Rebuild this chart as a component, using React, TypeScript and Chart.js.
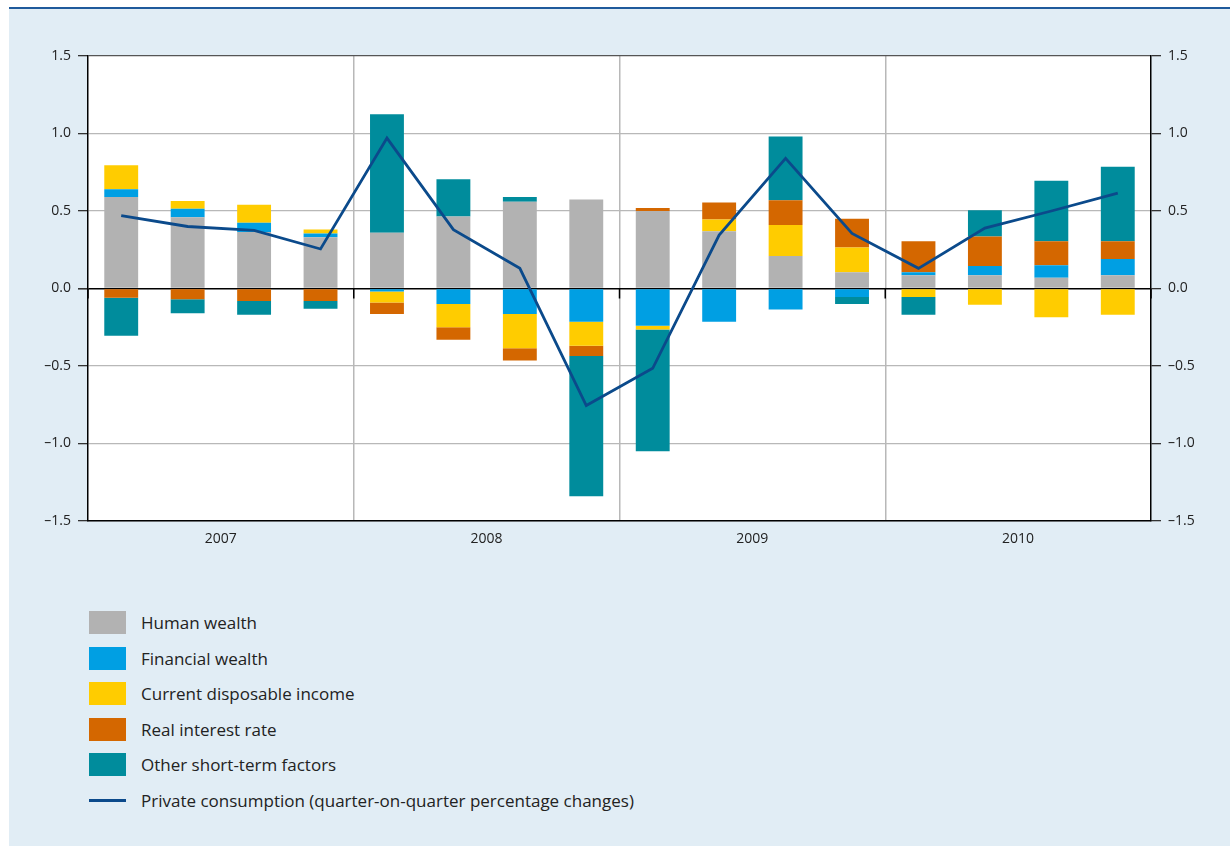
import React, { useEffect, useRef } from 'react';
import { Chart, registerables } from 'chart.js';

Chart.register(...registerables);

const quarters = [
  '2007 Q1', '2007 Q2', '2007 Q3', '2007 Q4',
  '2008 Q1', '2008 Q2', '2008 Q3', '2008 Q4',
  '2009 Q1', '2009 Q2', '2009 Q3', '2009 Q4',
  '2010 Q1', '2010 Q2', '2010 Q3', '2010 Q4',
];
const years = ['2007', '2008', '2009', '2010'];

const humanWealth = [0.59, 0.46, 0.365, 0.33, 0.36, 0.465, 0.56, 0.575, 0.5, 0.37, 0.21, 0.105, 0.085, 0.085, 0.07, 0.085];
const financialWealth = [0.05, 0.055, 0.06, 0.025, -0.02, -0.1, -0.165, -0.215, -0.24, -0.215, -0.135, -0.055, 0.02, 0.06, 0.08, 0.105];
const disposableIncome = [0.155, 0.05, 0.115, 0.025, -0.07, -0.15, -0.22, -0.155, -0.025, 0.075, 0.2, 0.16, -0.055, -0.105, -0.185, -0.17];
const realInterestRate = [-0.06, -0.07, -0.08, -0.08, -0.075, -0.08, -0.08, -0.065, 0.02, 0.11, 0.16, 0.185, 0.2, 0.19, 0.155, 0.115];
const otherShortTerm = [-0.245, -0.09, -0.09, -0.05, 0.765, 0.24, 0.03, -0.905, -0.785, 0, 0.41, -0.045, -0.115, 0.17, 0.39, 0.48];
const privateConsumption = [0.47, 0.4, 0.375, 0.255, 0.97, 0.38, 0.13, -0.755, -0.515, 0.345, 0.84, 0.355, 0.13, 0.39, 0.5, 0.615];

const barSeries = [
  { label: 'Human wealth', data: humanWealth, color: '#b2b2b2' },
  { label: 'Financial wealth', data: financialWealth, color: '#009fe3' },
  { label: 'Current disposable income', data: disposableIncome, color: '#ffcc00' },
  { label: 'Real interest rate', data: realInterestRate, color: '#d46700' },
  { label: 'Other short-term factors', data: otherShortTerm, color: '#008c9c' },
];
const lineLabel = 'Private consumption (quarter-on-quarter percentage changes)';
const lineColor = '#0b4a8b';

const FONT = '"Open Sans", "Noto Sans", sans-serif';

const fmt = (v: number) => (v < 0 ? '\u2013' : '') + Math.abs(v).toFixed(1);

const plotBg = {
  id: 'plotBg',
  beforeDraw(chart: any) {
    const { ctx, chartArea } = chart;
    ctx.save();
    ctx.fillStyle = '#ffffff';
    ctx.fillRect(chartArea.left, chartArea.top, chartArea.right - chartArea.left, chartArea.bottom - chartArea.top);
    ctx.restore();
  },
};

const zeroTicks = {
  id: 'zeroTicks',
  afterDatasetsDraw(chart: any) {
    const { ctx, chartArea } = chart;
    const xs = chart.scales.x;
    const ys = chart.scales.y;
    const y0 = ys.getPixelForValue(0);
    const xsPos: number[] = [chartArea.left, chartArea.right];
    for (let k = 4; k < quarters.length; k += 4) {
      xsPos.push((xs.getPixelForValue(k - 1) + xs.getPixelForValue(k)) / 2);
    }
    ctx.save();
    ctx.strokeStyle = '#000';
    ctx.lineWidth = 1.5;
    xsPos.forEach((x) => {
      ctx.beginPath();
      ctx.moveTo(x, y0);
      ctx.lineTo(x, y0 + 10);
      ctx.stroke();
    });
    ctx.restore();
  },
};

export default function App() {
  const ref = useRef<HTMLCanvasElement>(null);

  useEffect(() => {
    if (!ref.current) return;
    const tickFont = { family: FONT, size: 14 };
    const chart = new Chart(ref.current, {
      type: 'bar',
      data: {
        labels: quarters,
        datasets: [
          {
            type: 'line',
            label: lineLabel,
            data: privateConsumption,
            borderColor: lineColor,
            backgroundColor: lineColor,
            borderWidth: 2.8,
            pointRadius: 0,
            tension: 0,
            order: 0,
            stack: 'line',
            yAxisID: 'y',
          } as any,
          ...barSeries.map((s) => ({
            type: 'bar',
            label: s.label,
            data: s.data,
            backgroundColor: s.color,
            borderWidth: 0,
            barPercentage: 0.51,
            categoryPercentage: 1,
            order: 1,
            stack: 'bars',
            yAxisID: 'y',
          })),
        ],
      },
      options: {
        animation: false,
        responsive: false,
        layout: { padding: { top: 16, left: 0, right: 0, bottom: 0 } },
        plugins: {
          legend: { display: false },
          tooltip: { enabled: false },
        },
        scales: {
          x: {
            stacked: true,
            offset: true,
            grid: {
              offset: true,
              drawTicks: false,
              color: (ctx: any) =>
                typeof ctx.index === 'number' && ctx.index % 4 === 0 && ctx.index > 0 ? '#b8b8b8' : 'rgba(0,0,0,0)',
              lineWidth: 1.5,
            },
            border: { color: '#000', width: 1.5 },
            ticks: {
              autoSkip: false,
              maxRotation: 0,
              minRotation: 0,
              labelOffset: 33.2,
              padding: 10,
              color: '#222',
              font: tickFont,
              callback: (_v: any, i: number) => (i % 4 === 1 ? years[Math.floor(i / 4)] : ''),
            },
            afterFit: (s: any) => {
              s.height = 49;
            },
          },
          y: {
            position: 'left',
            stacked: true,
            min: -1.5,
            max: 1.5,
            ticks: {
              stepSize: 0.5,
              color: '#222',
              font: tickFont,
              padding: 7,
              callback: (v: any) => fmt(Number(v)),
            },
            grid: {
              color: (ctx: any) => {
                const v = ctx.tick ? ctx.tick.value : null;
                if (v === 0) return '#000';
                if (v === 1.5) return '#555';
                return '#b8b8b8';
              },
              lineWidth: (ctx: any) => (ctx.tick && ctx.tick.value === 0 ? 1.6 : 1.3),
              tickColor: '#333',
              tickLength: 10,
            },
            border: { color: '#000', width: 1.5 },
            afterFit: (s: any) => {
              s.width = 88;
            },
          },
          y2: {
            position: 'right',
            min: -1.5,
            max: 1.5,
            ticks: {
              stepSize: 0.5,
              color: '#222',
              font: tickFont,
              padding: 7,
              callback: (v: any) => fmt(Number(v)),
            },
            grid: {
              drawOnChartArea: false,
              color: '#333',
              tickColor: '#333',
              tickLength: 10,
              lineWidth: 1.3,
            },
            border: { color: '#000', width: 1.5 },
            afterFit: (s: any) => {
              s.width = 79;
            },
          },
        },
      } as any,
      plugins: [plotBg, zeroTicks],
    });
    return () => chart.destroy();
  }, []);

  const rowTop = 611;
  const rowStep = 35.5;

  return (
    <div style={{ position: 'absolute', left: 0, top: 0, width: 1230, height: 846, overflow: 'hidden', background: '#ffffff' }}>
      <div style={{ position: 'absolute', left: 9, top: 9, width: 1221, height: 837, background: '#e1edf5' }} />
      <div style={{ position: 'absolute', left: 9, top: 7, width: 1221, height: 2, background: '#1f5a9c' }} />
      <div style={{ position: 'absolute', left: 0, top: 40, width: 1230, height: 530 }}>
        <canvas ref={ref} width={1230} height={530} style={{ display: 'block' }} />
      </div>
      {barSeries.map((s, i) => (
        <div key={s.label} style={{ position: 'absolute', left: 89, top: rowTop + i * rowStep, height: 23, display: 'flex', alignItems: 'center' }}>
          <div style={{ width: 37, height: 23, background: s.color }} />
          <div style={{ marginLeft: 15, fontFamily: FONT, fontSize: 17, color: '#222', whiteSpace: 'nowrap' }}>{s.label}</div>
        </div>
      ))}
      <div style={{ position: 'absolute', left: 89, top: rowTop + 5 * rowStep, height: 23, display: 'flex', alignItems: 'center' }}>
        <div style={{ width: 37, height: 3, background: lineColor }} />
        <div style={{ marginLeft: 15, fontFamily: FONT, fontSize: 17, color: '#222', whiteSpace: 'nowrap' }}>{lineLabel}</div>
      </div>
    </div>
  );
}
